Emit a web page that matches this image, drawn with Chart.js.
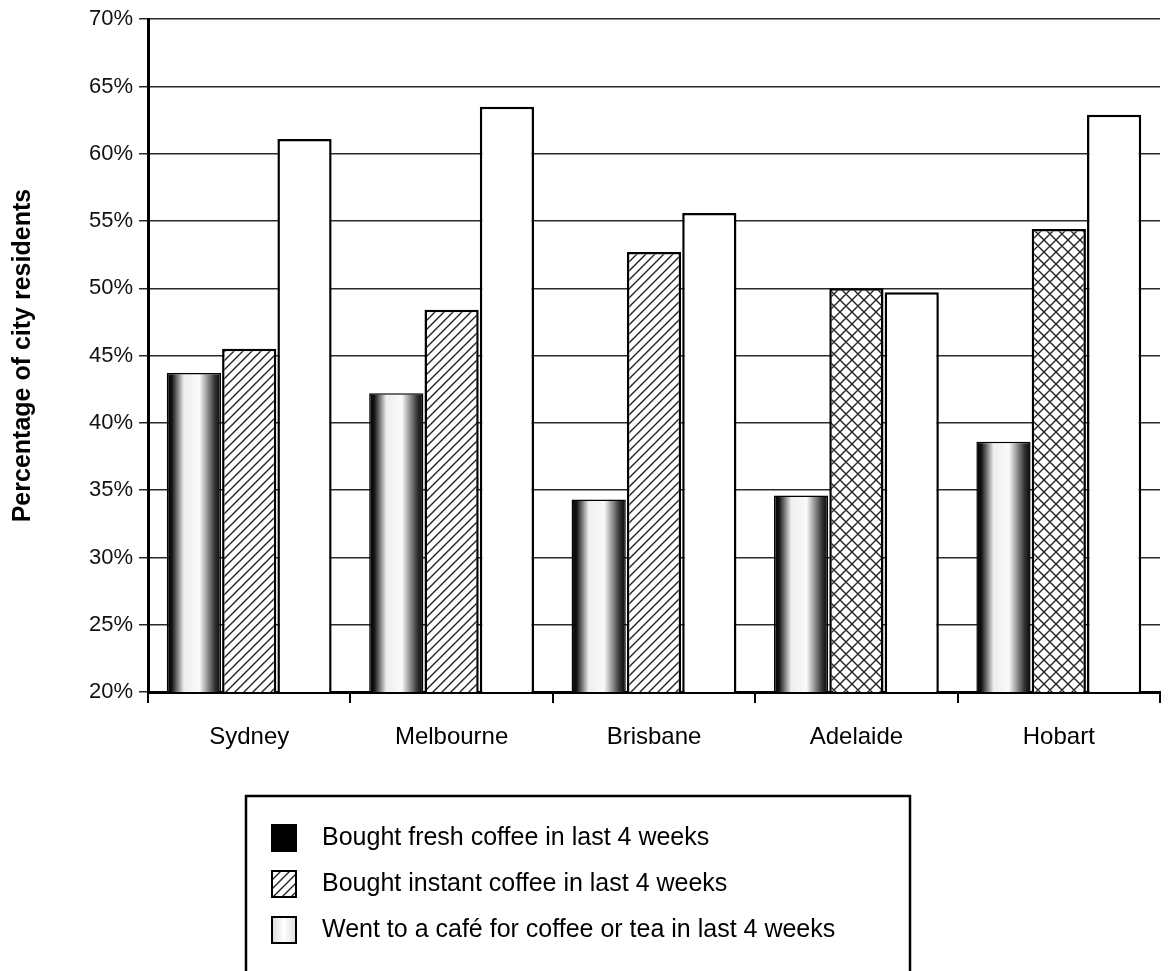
<!DOCTYPE html>
<html>
<head>
<meta charset="utf-8">
<script src="https://cdn.jsdelivr.net/npm/chart.js@4.4.1/dist/chart.umd.min.js"></script>
<style>
  body { margin: 0; background: #fff; }
  canvas { display: block; }
</style>
</head>
<body>
<canvas id="coffee" width="1170" height="971"></canvas>
<script>
// city categories and the three survey series (percent of residents)
const cities = ['Sydney', 'Melbourne', 'Brisbane', 'Adelaide', 'Hobart'];
const freshCoffee = [43.7, 42.2, 34.3, 34.6, 38.6];
const instantCoffee = [45.5, 48.4, 52.7, 50.0, 54.4];
const cafeVisits = [61.1, 63.5, 55.6, 49.7, 62.9];
const seriesLabels = [
  'Bought fresh coffee in last 4 weeks',
  'Bought instant coffee in last 4 weeks',
  'Went to a café for coffee or tea in last 4 weeks'
];
const yTicks = [20, 25, 30, 35, 40, 45, 50, 55, 60, 65, 70];

const FONT = '"Liberation Sans", Arial, sans-serif';
const CAT_PCT = 0.82;

// little hatch tiles for the instant coffee bars
function makePattern(cross) {
  const size = cross ? 12 : 9;
  const c = document.createElement('canvas');
  c.width = size; c.height = size;
  const g = c.getContext('2d');
  g.fillStyle = '#fff';
  g.fillRect(0, 0, size, size);
  g.strokeStyle = '#222';
  g.lineWidth = 1.4;
  g.beginPath();
  g.moveTo(0, size); g.lineTo(size, 0);
  g.moveTo(-size / 2, size / 2); g.lineTo(size / 2, -size / 2);
  g.moveTo(size / 2, size * 1.5); g.lineTo(size * 1.5, size / 2);
  if (cross) {
    g.moveTo(0, 0); g.lineTo(size, size);
    g.moveTo(-size / 2, size / 2); g.lineTo(size / 2, size * 1.5);
    g.moveTo(size / 2, -size / 2); g.lineTo(size * 1.5, size / 2);
  }
  g.stroke();
  return g.createPattern(c, 'repeat');
}
const diag = makePattern(false);
const cross = makePattern(true);

// black-white-black shading for the fresh coffee bars
function freshFill(context) {
  const chart = context.chart;
  const xs = chart.scales.x;
  if (!chart.chartArea || !xs || context.dataIndex === undefined) return '#111';
  const catW = xs.width / cities.length;
  const barW = catW * CAT_PCT / 3;
  const cx = xs.getPixelForValue(context.dataIndex) - barW;
  const left = cx - barW / 2, right = cx + barW / 2;
  const grad = chart.ctx.createLinearGradient(left, 0, right, 0);
  grad.addColorStop(0, '#000');
  grad.addColorStop(0.1, '#111');
  grad.addColorStop(0.32, '#eee');
  grad.addColorStop(0.6, '#fafafa');
  grad.addColorStop(0.88, '#333');
  grad.addColorStop(1, '#000');
  return grad;
}

// boxed legend under the chart
const boxedLegend = {
  id: 'boxedLegend',
  afterDraw(chart) {
    const ctx = chart.ctx;
    ctx.save();
    ctx.lineWidth = 2.5;
    ctx.strokeStyle = '#000';
    ctx.strokeRect(246, 796, 664, 190);
    const rows = [838, 884, 930];
    chart.data.datasets.forEach((ds, i) => {
      const y = rows[i];
      const x = 272;
      if (i === 0) {
        ctx.fillStyle = '#000';
      } else if (i === 1) {
        ctx.fillStyle = diag;
      } else {
        const g = ctx.createLinearGradient(x, 0, x + 24, 0);
        g.addColorStop(0, '#ddd'); g.addColorStop(0.5, '#fff'); g.addColorStop(1, '#ddd');
        ctx.fillStyle = g;
      }
      ctx.fillRect(x, y - 13, 24, 26);
      ctx.lineWidth = 2;
      ctx.strokeRect(x, y - 13, 24, 26);
      ctx.fillStyle = '#000';
      ctx.font = '25px ' + FONT;
      ctx.textBaseline = 'middle';
      ctx.fillText(ds.label, 322, y);
    });
    ctx.restore();
  }
};

new Chart(document.getElementById('coffee').getContext('2d'), {
  type: 'bar',
  data: {
    labels: cities,
    datasets: [
      {
        label: seriesLabels[0],
        data: freshCoffee,
        backgroundColor: freshFill,
        borderColor: '#000',
        borderWidth: 1.5
      },
      {
        label: seriesLabels[1],
        data: instantCoffee,
        backgroundColor: [diag, diag, diag, cross, cross],
        borderColor: '#000',
        borderWidth: 2.5
      },
      {
        label: seriesLabels[2],
        data: cafeVisits,
        backgroundColor: '#fff',
        borderColor: '#000',
        borderWidth: 2.5
      }
    ]
  },
  options: {
    responsive: false,
    animation: false,
    layout: { padding: { top: 15, right: 10, bottom: 209, left: 4 } },
    datasets: { bar: { categoryPercentage: CAT_PCT, barPercentage: 0.98 } },
    plugins: {
      legend: { display: false },
      tooltip: { enabled: false }
    },
    scales: {
      x: {
        afterFit(scale) { scale.height = 70; },
        grid: { display: true, drawOnChartArea: false, offset: true, tickLength: 11, color: '#000', lineWidth: 2 },
        border: { color: '#000', width: 3 },
        ticks: { color: '#000', font: { family: FONT, size: 24 }, padding: 20 }
      },
      y: {
        min: 20,
        max: 70,
        afterFit(scale) { scale.width = 144; },
        afterBuildTicks(axis) { axis.ticks = yTicks.map(v => ({ value: v })); },
        grid: { color: '#2a2a2a', lineWidth: 1.5, tickLength: 9 },
        border: { color: '#000', width: 3 },
        ticks: {
          color: '#111',
          font: { family: FONT, size: 22 },
          padding: 6,
          callback: v => v + '%'
        },
        title: {
          display: true,
          text: 'Percentage of city residents',
          color: '#000',
          font: { family: FONT, size: 25, weight: 'bold' },
          padding: { top: 4, bottom: 10 }
        }
      }
    }
  },
  plugins: [boxedLegend]
});
</script>
</body>
</html>
